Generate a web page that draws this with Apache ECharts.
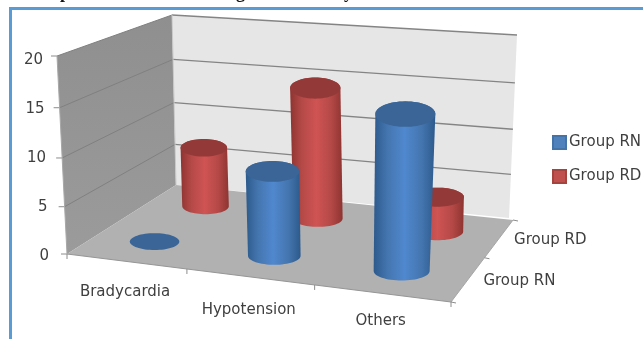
<!DOCTYPE html>
<html>
<head>
<meta charset="utf-8">
<style>html,body{margin:0;padding:0;background:#fff}#chart{width:643px;height:339px}</style>
<script src="https://cdn.jsdelivr.net/npm/echarts@6/dist/echarts.min.js"></script>
</head>
<body>
<div id="chart"></div>
<script>
// Chart data
const categories = ['Bradycardia', 'Hypotension', 'Others'];
const depthGroups = ['Group RN', 'Group RD'];
const groupRN = [0, 8.8, 15.6];
const groupRD = [6.8, 14.4, 3.8];
const valueTicks = [0, 5, 10, 15, 20];

const labelFont = 'DejaVu Sans';
const labelColor = '#3f3f3f';
const labelSize = 15;

// Corners of the 3D box on screen: floor and the plane at the top of the value axis
const floorQuad = [[67, 254], [451, 302], [513, 220], [176, 185]];
const ceilQuad = [[57, 56], [465, 88], [517, 35], [172, 15]];
const wallRight = { bottom: [509, 218], top: [517, 35] };

// Unit square to quadrilateral homography
function quadMap(q) {
  const [[x0, y0], [x1, y1], [x2, y2], [x3, y3]] = q;
  const dx1 = x1 - x2, dx2 = x3 - x2, sx = x0 - x1 + x2 - x3;
  const dy1 = y1 - y2, dy2 = y3 - y2, sy = y0 - y1 + y2 - y3;
  const det = dx1 * dy2 - dx2 * dy1;
  const g = (sx * dy2 - dx2 * sy) / det;
  const h = (dx1 * sy - sx * dy1) / det;
  const a = x1 - x0 + g * x1, b = x3 - x0 + h * x3, c = x0;
  const d = y1 - y0 + g * y1, e = y3 - y0 + h * y3, f = y0;
  return (u, v) => {
    const w = g * u + h * v + 1;
    return [(a * u + b * v + c) / w, (d * u + e * v + f) / w];
  };
}
const onFloor = quadMap(floorQuad);
const onCeil = quadMap(ceilQuad);
const mix = (p, q, t) => [p[0] + (q[0] - p[0]) * t, p[1] + (q[1] - p[1]) * t];
// Slight foreshortening of the vertical axis
const liftOf = t => t * (1 - 0.06 * (1 - t));
// u runs along the categories, v runs front to back, h is the share of the value axis
const project = (u, v, h) => mix(onFloor(u, v), onCeil(u, v), liftOf(h));

function hull(pts) {
  const s = pts.slice().sort((a, b) => a[0] - b[0] || a[1] - b[1]);
  const cross = (o, a, b) => (a[0] - o[0]) * (b[1] - o[1]) - (a[1] - o[1]) * (b[0] - o[0]);
  const half = list => {
    const out = [];
    for (const p of list) {
      while (out.length > 1 && cross(out[out.length - 2], out[out.length - 1], p) <= 0) out.pop();
      out.push(p);
    }
    out.pop();
    return out;
  };
  return half(s).concat(half(s.reverse()));
}

// Cylinder end as a level ellipse, opening up slightly towards the top of the axis
const radiusU = 0.071;
function ring(u, v, h) {
  const c = project(u, v, h);
  const rx = (project(u + radiusU, v, h)[0] - project(u - radiusU, v, h)[0]) / 2;
  const ry = rx * (0.34 + 0.11 * h);
  const pts = [];
  for (let k = 0; k < 64; k++) {
    const t = k / 64 * Math.PI * 2;
    pts.push([c[0] + rx * Math.cos(t), c[1] + ry * Math.sin(t)]);
  }
  return pts;
}

// One cylinder per category, placed by the hidden cartesian scales
function cylinderRenderer(depth, shades) {
  return function (params, api) {
    const cs = params.coordSys;
    const pos = api.coord([api.value(0), api.value(1)]);
    const u = (pos[0] - cs.x) / cs.width;
    const h = (cs.y + cs.height - pos[1]) / cs.height;
    const base = ring(u, depth, 0);
    const top = ring(u, depth, h);
    const children = [];
    if (h > 0) {
      children.push({
        type: 'polygon',
        shape: { points: hull(base.concat(top)) },
        style: {
          fill: new echarts.graphic.LinearGradient(0, 0, 1, 0, [
            { offset: 0, color: shades.edge },
            { offset: 0.22, color: shades.mid },
            { offset: 0.5, color: shades.light },
            { offset: 0.78, color: shades.mid },
            { offset: 1, color: shades.edge }
          ])
        }
      });
    }
    children.push({ type: 'polygon', shape: { points: top }, style: { fill: shades.cap } });
    return { type: 'group', children };
  };
}

// Walls, floor, grid lines, ticks and the labels that sit on the slanted axes
function renderFrame() {
  const c = [];
  const poly = (points, fill) => c.push({ type: 'polygon', shape: { points }, style: { fill } });
  const line = (a, b, stroke, lineWidth) => c.push({
    type: 'line',
    shape: { x1: a[0], y1: a[1], x2: b[0], y2: b[1] },
    style: { stroke, lineWidth }
  });
  const text = (str, p) => c.push({
    type: 'text',
    style: { text: str, x: p[0], y: p[1], align: 'center', verticalAlign: 'middle',
      font: labelSize + 'px "' + labelFont + '"', fill: labelColor }
  });
  const wallEnd = t => mix(wallRight.bottom, wallRight.top, liftOf(t));

  poly([project(0, 0, 0), project(0, 1, 0), project(0, 1, 1), project(0, 0, 1)],
    new echarts.graphic.LinearGradient(0, 0, 0, 1, [
      { offset: 0, color: '#8f8f8f' }, { offset: 1, color: '#9b9b9b' }
    ]));
  poly([project(0, 1, 0), wallRight.bottom, wallRight.top, project(0, 1, 1)], '#e6e6e6');
  poly([project(0, 0, 0), project(1, 0, 0), project(1, 1, 0), project(0, 1, 0)], '#b1b1b1');

  valueTicks.forEach(tick => {
    const t = tick / valueTicks[valueTicks.length - 1];
    const front = project(0, 0, t), back = project(0, 1, t);
    if (tick > 0) {
      line(front, back, '#808080', 1);
      line(back, wallEnd(t), '#848484', 1.3);
    }
    line(front, [front[0] - 6, front[1]], '#8c8c8c', 1);
  });
  line(project(0, 1, 0), project(0, 1, 1), '#c8c8c8', 1);
  line(project(0, 0, 0), project(0, 0, 1), '#a8a8a8', 1);
  line(project(0, 0, 0), project(1, 0, 0), '#959595', 1);
  line(project(1, 0, 0), project(1, 1, 0), '#a6a6a6', 1);

  // Category ticks along the front edge and group ticks along the right edge
  for (let i = 0; i <= categories.length; i++) {
    const p = project(i / categories.length, 0, 0);
    line(p, [p[0], p[1] + 5], '#8c8c8c', 1);
  }
  for (let j = 0; j <= depthGroups.length; j++) {
    const p = project(1, j / depthGroups.length, 0);
    line(p, [p[0] + 5, p[1] + 1], '#8c8c8c', 1);
  }

  const categoryDrop = [31, 33, 28];
  categories.forEach((name, i) => {
    const p = project((i + 0.5) / categories.length, 0, 0);
    text(name, [p[0] - 1, p[1] + categoryDrop[i]]);
  });
  depthGroups.forEach((name, j) => {
    const p = project(1, (j + 0.5) / depthGroups.length, 0);
    text(name, [p[0] + 51, p[1] + 2]);
  });
  return { type: 'group', children: c };
}

const blueShades = { edge: '#2c5a8c', mid: '#4475ae', light: '#5088cf', cap: '#3a6596' };
const redShades = { edge: '#8e3431', mid: '#b44947', light: '#cf5453', cap: '#933a38' };
const asPoints = values => values.map((v, i) => [i, v]);

// Lower strokes of the heading line that runs off the top edge
const headingTails = [['p', 60], ['g', 236], ['y', 344]];

const chart = echarts.init(document.getElementById('chart'), null, { renderer: 'canvas' });
chart.setOption({
  animation: false,
  backgroundColor: '#ffffff',
  grid: { left: 67, top: 60, width: 384, height: 196 },
  xAxis: { type: 'category', data: categories, show: false },
  yAxis: {
    type: 'value', min: 0, max: 20, interval: 5,
    splitLine: { show: false }, axisLine: { show: false }, axisTick: { show: false },
    axisLabel: {
      margin: 18, color: labelColor, fontFamily: labelFont, fontSize: labelSize,
      formatter: v => '{t' + v + '|' + v + '}',
      rich: Object.fromEntries(valueTicks.map(v => ['t' + v, {
        padding: [0, v / 20 * 6, 0, 0], fontFamily: labelFont, fontSize: labelSize, color: labelColor
      }]))
    }
  },
  legend: {
    orient: 'vertical', left: 547, top: 130, itemWidth: 13, itemHeight: 13, itemGap: 19,
    icon: 'rect', data: depthGroups, selectedMode: false,
    textStyle: { fontFamily: labelFont, fontSize: labelSize, color: labelColor, padding: [0, 0, 0, -2] }
  },
  graphic: [
    { type: 'rect', silent: true, shape: { x: 10.5, y: 8.5, width: 700, height: 400 },
      style: { fill: null, stroke: '#5b9bd5', lineWidth: 3 } }
  ].concat(headingTails.map(([letter, x]) => ({
    type: 'text', silent: true, x, y: -16,
    style: { text: letter, font: 'bold 18px "Liberation Serif"', fill: '#111111' }
  }))),
  series: [
    { type: 'custom', name: 'frame', silent: true, z: 1, data: [[0, 0]], renderItem: renderFrame },
    { type: 'custom', name: depthGroups[1], z: 2, silent: true, data: asPoints(groupRD),
      itemStyle: { color: '#c0504d', borderColor: '#a5433f', borderWidth: 1 },
      renderItem: cylinderRenderer(0.75, redShades), encode: { x: 0, y: 1 } },
    { type: 'custom', name: depthGroups[0], z: 3, silent: true, data: asPoints(groupRN),
      itemStyle: { color: '#4f81bd', borderColor: '#4473a8', borderWidth: 1 },
      renderItem: cylinderRenderer(0.25, blueShades), encode: { x: 0, y: 1 } }
  ]
});
</script>
</body>
</html>
